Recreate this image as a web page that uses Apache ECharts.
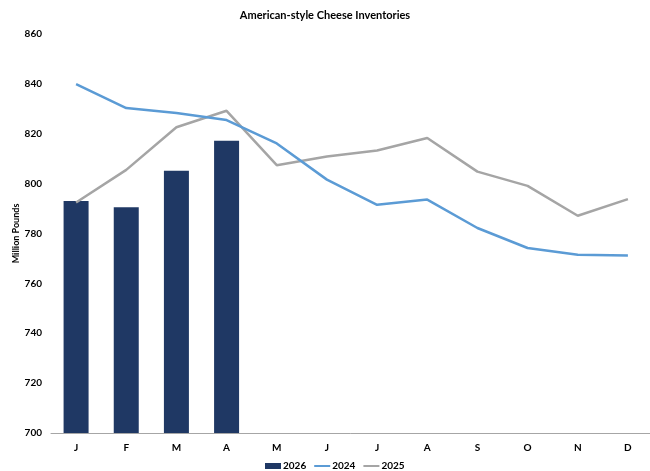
<!DOCTYPE html>
<html>
<head>
<meta charset="utf-8">
<script src="https://cdn.jsdelivr.net/npm/echarts@6/dist/echarts.min.js"></script>
<style>
  html, body { margin: 0; padding: 0; background: #fff; }
  #chart { width: 650px; height: 471px; }
</style>
</head>
<body>
<div id="chart"></div>
<script>
// Monthly categories
const months = ['J', 'F', 'M', 'A', 'M', 'J', 'J', 'A', 'S', 'O', 'N', 'D'];

// Inventories, million pounds
const inv2026 = [793, 790.5, 805.2, 817.2];
const inv2024 = [839.9, 830.3, 828.3, 825.5, 816.1, 801.6, 791.5, 793.6, 782.2, 774.2, 771.5, 771.2];
const inv2025 = [792.4, 805.5, 822.6, 829.2, 807.4, 810.9, 813.3, 818.3, 804.8, 799.1, 787.1, 793.8];

// Y-axis range
const yMin = 700, yMax = 860, yStep = 20;

const font = 'Lato, "Open Sans", sans-serif';

const chart = echarts.init(document.getElementById('chart'), null, { renderer: 'canvas' });

chart.setOption({
  animation: false,
  backgroundColor: '#ffffff',
  title: {
    text: 'American-style Cheese Inventories',
    left: 'center',
    top: 10,
    padding: 0,
    textStyle: { fontFamily: font, fontSize: 11, fontWeight: 'bold', color: '#000' }
  },
  legend: {
    bottom: 0,
    left: 265,
    padding: 0,
    itemGap: 7,
    itemWidth: 16,
    itemHeight: 6,
    textStyle: { fontFamily: font, fontSize: 10, fontWeight: 'bold', color: '#000', padding: [0, 0, 0, -3] },
    data: [
      { name: '2026', icon: 'rect' },
      { name: '2024', itemStyle: { opacity: 0 } },
      { name: '2025', itemStyle: { opacity: 0 } }
    ]
  },
  grid: { left: 51, right: -3, top: 34, bottom: 38, outerBoundsMode: 'none' },
  xAxis: {
    type: 'category',
    data: months,
    axisLine: { show: true, lineStyle: { color: '#a6a6a6', width: 1 } },
    axisTick: { show: false },
    axisLabel: { fontFamily: font, fontSize: 10, fontWeight: 'bold', color: '#000', margin: 10 },
    splitLine: { show: false }
  },
  yAxis: {
    type: 'value',
    min: yMin,
    max: yMax,
    interval: yStep,
    name: 'Million Pounds',
    nameLocation: 'middle',
    nameGap: 30,
    nameRotate: 90,
    nameMoveOverlap: false,
    nameTextStyle: { fontFamily: font, fontSize: 9, fontWeight: 'bold', color: '#000' },
    axisLine: { show: false },
    axisTick: { show: false },
    splitLine: { show: false },
    axisLabel: { fontFamily: font, fontSize: 10, fontWeight: 'bold', color: '#000', margin: 9 }
  },
  series: [
    {
      name: '2026',
      type: 'bar',
      data: inv2026,
      barWidth: 25,
      itemStyle: { color: '#1f3864' },
      z: 1
    },
    {
      name: '2024',
      type: 'line',
      data: inv2024,
      symbol: 'none',
      lineStyle: { color: '#5b9bd5', width: 2.5 },
      itemStyle: { color: '#5b9bd5' },
      z: 3
    },
    {
      name: '2025',
      type: 'line',
      data: inv2025,
      symbol: 'none',
      lineStyle: { color: '#a5a5a5', width: 2.5 },
      itemStyle: { color: '#a5a5a5' },
      z: 2
    }
  ]
});
</script>
</body>
</html>
